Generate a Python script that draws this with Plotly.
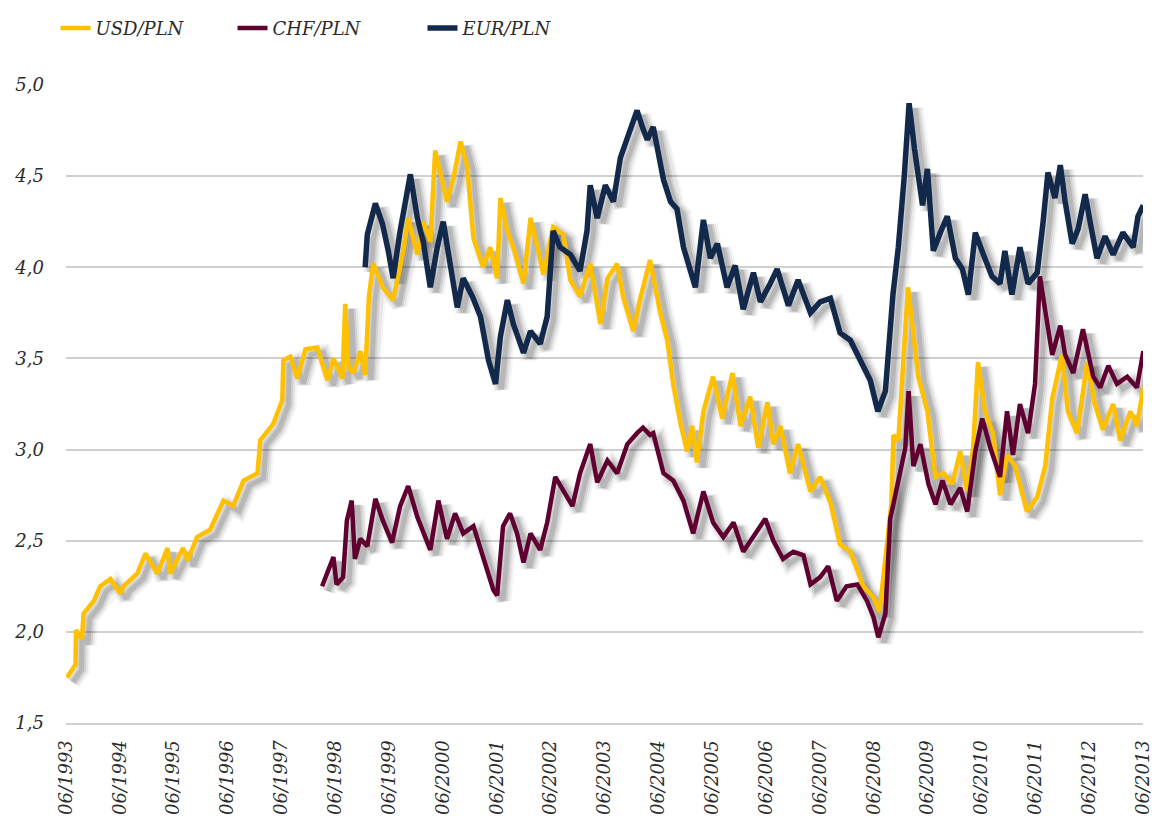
import pandas as pd
import plotly.graph_objects as go

# ---------------- data (decimal years) ----------------
usd_t = [1993.43, 1993.55, 1993.59, 1993.60, 1993.71, 1993.74, 1993.93, 1994.05, 1994.24, 1994.42,
         1994.48, 1994.74, 1994.89, 1995.11, 1995.30, 1995.35, 1995.59, 1995.67, 1995.85, 1996.09,
         1996.34, 1996.52, 1996.71, 1996.97, 1997.02, 1997.26, 1997.43, 1997.45, 1997.58, 1997.71,
         1997.86, 1998.08, 1998.27, 1998.38, 1998.55, 1998.60, 1998.66, 1998.75, 1998.88, 1998.97,
         1999.04, 1999.12, 1999.30, 1999.49, 1999.68, 1999.77, 1999.94, 2000.05, 2000.18, 2000.27,
         2000.37, 2000.49, 2000.61, 2000.74, 2000.86, 2000.98, 2001.16, 2001.29, 2001.42, 2001.48,
         2001.61, 2001.72, 2001.91, 2002.04, 2002.17, 2002.28, 2002.46, 2002.65, 2002.78, 2002.96,
         2003.15, 2003.34, 2003.47, 2003.65, 2003.76, 2003.95, 2004.08, 2004.26, 2004.45, 2004.58,
         2004.69, 2004.82, 2004.95, 2005.04, 2005.13, 2005.25, 2005.43, 2005.60, 2005.79, 2005.94,
         2006.12, 2006.27, 2006.44, 2006.55, 2006.68, 2006.86, 2007.01, 2007.24, 2007.42, 2007.61,
         2007.79, 2007.98, 2008.11, 2008.22, 2008.41, 2008.52, 2008.63, 2008.74, 2008.78, 2008.87,
         2009.05, 2009.15, 2009.24, 2009.41, 2009.56, 2009.71, 2009.87, 2010.02, 2010.15, 2010.26,
         2010.35, 2010.48, 2010.63, 2010.76, 2010.89, 2011.04, 2011.26, 2011.45, 2011.60, 2011.73,
         2011.91, 2012.02, 2012.19, 2012.38, 2012.52, 2012.67, 2012.86, 2012.99, 2013.18, 2013.30,
         2013.42]
usd_v = [1.75, 1.80, 1.82, 2.01, 1.96, 2.10, 2.17, 2.25, 2.29, 2.21,
         2.25, 2.32, 2.43, 2.32, 2.46, 2.32, 2.46, 2.39, 2.52, 2.56,
         2.72, 2.69, 2.83, 2.87, 3.05, 3.14, 3.27, 3.49, 3.51, 3.39,
         3.55, 3.56, 3.38, 3.50, 3.39, 3.80, 3.45, 3.42, 3.54, 3.41,
         3.84, 4.02, 3.89, 3.82, 4.09, 4.27, 4.07, 4.25, 4.14, 4.64,
         4.51, 4.36, 4.49, 4.69, 4.56, 4.16, 4.00, 4.11, 3.94, 4.38,
         4.20, 4.11, 3.91, 4.27, 4.11, 3.96, 4.22, 4.18, 3.93, 3.84,
         4.02, 3.69, 3.94, 4.02, 3.84, 3.65, 3.83, 4.04, 3.75, 3.60,
         3.36, 3.15, 2.99, 3.13, 2.93, 3.21, 3.40, 3.17, 3.42, 3.13,
         3.29, 3.01, 3.26, 3.03, 3.13, 2.87, 3.03, 2.77, 2.85, 2.71,
         2.48, 2.44, 2.34, 2.25, 2.19, 2.11, 2.40, 2.70, 3.08, 3.05,
         3.89, 3.60, 3.40, 3.21, 2.85, 2.87, 2.81, 2.99, 2.77, 3.01,
         3.48, 3.21, 3.09, 2.75, 2.97, 2.91, 2.66, 2.74, 2.91, 3.28,
         3.52, 3.21, 3.09, 3.48, 3.25, 3.11, 3.25, 3.05, 3.21, 3.13,
         3.34]

chf_t = [1998.17, 1998.32, 1998.38, 1998.44, 1998.56, 1998.63, 1998.72, 1998.78, 1998.88, 1999.01,
         1999.16, 1999.30, 1999.47, 1999.62, 1999.77, 1999.94, 2000.18, 2000.33, 2000.49, 2000.64,
         2000.79, 2000.98, 2001.16, 2001.35, 2001.42, 2001.53, 2001.66, 2001.79, 2001.91, 2002.04,
         2002.22, 2002.35, 2002.50, 2002.65, 2002.82, 2002.96, 2003.15, 2003.28, 2003.47, 2003.65,
         2003.84, 2004.02, 2004.13, 2004.26, 2004.32, 2004.51, 2004.69, 2004.88, 2005.06, 2005.25,
         2005.43, 2005.62, 2005.81, 2005.99, 2006.18, 2006.40, 2006.55, 2006.73, 2006.92, 2007.11,
         2007.24, 2007.42, 2007.57, 2007.73, 2007.91, 2008.11, 2008.29, 2008.41, 2008.50, 2008.63,
         2008.72, 2008.85, 2009.00, 2009.06, 2009.15, 2009.28, 2009.43, 2009.56, 2009.69, 2009.84,
         2010.02, 2010.15, 2010.30, 2010.43, 2010.58, 2010.76, 2010.89, 2011.00, 2011.13, 2011.28,
         2011.41, 2011.50, 2011.63, 2011.73, 2011.88, 2011.97, 2012.12, 2012.30, 2012.49, 2012.62,
         2012.77, 2012.93, 2013.12, 2013.30, 2013.42]
chf_v = [2.25, 2.36, 2.41, 2.26, 2.30, 2.61, 2.72, 2.40, 2.51, 2.47,
         2.73, 2.61, 2.49, 2.69, 2.80, 2.63, 2.45, 2.72, 2.51, 2.65,
         2.54, 2.58, 2.40, 2.23, 2.20, 2.58, 2.65, 2.54, 2.38, 2.54,
         2.45, 2.60, 2.85, 2.78, 2.69, 2.87, 3.03, 2.82, 2.94, 2.87,
         3.03, 3.09, 3.12, 3.08, 3.09, 2.87, 2.83, 2.72, 2.54, 2.77,
         2.60, 2.52, 2.60, 2.44, 2.52, 2.62, 2.50, 2.40, 2.44, 2.42,
         2.26, 2.30, 2.36, 2.17, 2.25, 2.26, 2.17, 2.08, 1.97, 2.10,
         2.62, 2.80, 3.01, 3.32, 2.91, 3.03, 2.81, 2.70, 2.83, 2.70,
         2.79, 2.66, 2.99, 3.17, 3.01, 2.85, 3.21, 2.97, 3.25, 3.09,
         3.36, 3.95, 3.72, 3.52, 3.68, 3.52, 3.42, 3.66, 3.40, 3.34,
         3.46, 3.36, 3.40, 3.34, 3.54]

eur_t = [1998.97, 1999.01, 1999.16, 1999.29, 1999.40, 1999.49, 1999.62, 1999.81, 1999.94, 2000.05,
         2000.18, 2000.31, 2000.42, 2000.55, 2000.68, 2000.79, 2000.96, 2001.11, 2001.26, 2001.39,
         2001.48, 2001.61, 2001.72, 2001.91, 2002.04, 2002.22, 2002.35, 2002.46, 2002.59, 2002.78,
         2002.96, 2003.09, 2003.15, 2003.28, 2003.43, 2003.58, 2003.71, 2003.84, 2004.02, 2004.13,
         2004.21, 2004.32, 2004.51, 2004.64, 2004.76, 2004.88, 2005.10, 2005.25, 2005.38, 2005.51,
         2005.69, 2005.84, 2005.99, 2006.18, 2006.31, 2006.49, 2006.62, 2006.83, 2007.01, 2007.24,
         2007.42, 2007.61, 2007.79, 2007.98, 2008.16, 2008.35, 2008.49, 2008.63, 2008.77, 2008.87,
         2008.98, 2009.07, 2009.17, 2009.32, 2009.41, 2009.52, 2009.65, 2009.78, 2009.93, 2010.06,
         2010.17, 2010.30, 2010.45, 2010.61, 2010.76, 2010.85, 2010.98, 2011.13, 2011.28, 2011.45,
         2011.56, 2011.65, 2011.78, 2011.88, 2011.97, 2012.10, 2012.21, 2012.34, 2012.47, 2012.56,
         2012.71, 2012.86, 2013.04, 2013.23, 2013.32, 2013.42]
eur_v = [4.00, 4.18, 4.35, 4.24, 4.09, 3.94, 4.20, 4.51, 4.27, 4.14,
         3.89, 4.11, 4.25, 4.02, 3.78, 3.94, 3.84, 3.73, 3.49, 3.36,
         3.62, 3.82, 3.69, 3.53, 3.65, 3.58, 3.73, 4.20, 4.11, 4.07,
         3.98, 4.20, 4.45, 4.27, 4.45, 4.36, 4.60, 4.71, 4.86, 4.76,
         4.70, 4.77, 4.48, 4.36, 4.32, 4.11, 3.89, 4.26, 4.05, 4.13,
         3.89, 4.01, 3.77, 3.97, 3.81, 3.91, 3.99, 3.79, 3.93, 3.75,
         3.81, 3.83, 3.64, 3.60, 3.50, 3.38, 3.21, 3.32, 3.85, 4.11,
         4.50, 4.90, 4.65, 4.34, 4.54, 4.09, 4.19, 4.28, 4.05, 3.99,
         3.85, 4.19, 4.07, 3.95, 3.91, 4.09, 3.85, 4.11, 3.91, 3.97,
         4.25, 4.52, 4.38, 4.56, 4.36, 4.13, 4.21, 4.40, 4.19, 4.05,
         4.17, 4.07, 4.19, 4.11, 4.28, 4.34]

tick_years = list(range(1993, 2014))
tick_labels = [f"06/{y}" for y in tick_years]

series_names = ["USD/PLN", "CHF/PLN", "EUR/PLN"]
series_colors = ["#FFC000", "#5F0030", "#13294B"]
series_widths = [4.5, 4.5, 5.5]
legend_refs = ["legend", "legend2", "legend3"]


def dec_to_date(y):
    yr = int(y)
    start = pd.Timestamp(yr, 1, 1)
    days = (pd.Timestamp(yr + 1, 1, 1) - start).days
    return start + pd.Timedelta(days=(y - yr) * days)


tick_vals = [pd.Timestamp(y, 6, 1) for y in tick_years]
x0, x1 = tick_vals[0], tick_vals[-1]

W, H = 1156, 825
ML, MR, MT, MB = 66, 13, 85, 102
pw, ph = W - ML - MR, H - MT - MB
y0, y1 = 1.5, 5.0

# shadow offset (pixels -> data units via axis ranges)
sdx_px, sdy_px = 6, 5
span = x1 - x0
sdx = span * (sdx_px / pw)
sdy = (y1 - y0) * (sdy_px / ph)

fig = go.Figure()

# anchor trace on the base axes so that they (grid, ticks) are drawn
fig.add_trace(go.Scatter(x=[x0, x1], y=[None, None], mode="lines", xaxis="x", yaxis="y",
                         showlegend=False, hoverinfo="skip"))

data = [(usd_t, usd_v), (chf_t, chf_v), (eur_t, eur_v)]

# soft shadows (on shifted overlay axes x2/y2)
for (t, v) in data:
    xs = [dec_to_date(a) for a in t]
    for w, a in [(17, 0.04), (13, 0.06), (9, 0.09), (5, 0.12)]:
        fig.add_trace(go.Scatter(x=xs, y=v, mode="lines", xaxis="x2", yaxis="y2",
                                 line=dict(color=f"rgba(0,0,0,{a})", width=w),
                                 showlegend=False, hoverinfo="skip"))

# main lines (on overlay axes x3/y3 with true ranges)
for (t, v), name, col, w, lg in zip(data, series_names, series_colors, series_widths, legend_refs):
    xs = [dec_to_date(a) for a in t]
    fig.add_trace(go.Scatter(x=xs, y=v, mode="lines", name=name, xaxis="x3", yaxis="y3",
                             line=dict(color=col, width=w), legend=lg))

FONT = "DejaVu Serif"
tick_font = dict(family=FONT, size=18, color="#2b2b2b", style="italic")
legend_font = dict(family=FONT, size=18, color="#2b2b2b", style="italic")


def legend_at(xp):
    return dict(orientation="h", x=xp, xanchor="left", y=1.089, yanchor="middle",
                font=legend_font, bgcolor="rgba(0,0,0,0)")


fig.update_layout(
    width=W, height=H,
    margin=dict(l=ML, r=MR, t=MT, b=MB, autoexpand=False),
    paper_bgcolor="white", plot_bgcolor="white",
    separators=", ",
    showlegend=True,
    legend=legend_at(-0.0097),
    legend2=legend_at(0.1546),
    legend3=legend_at(0.331),
    xaxis=dict(type="date", range=[x0, x1], tickvals=tick_vals, ticktext=tick_labels,
               tickangle=-90, tickfont=tick_font, showgrid=False, zeroline=False,
               showline=True, linecolor="#D0D0D0", linewidth=2, ticks="", ticklabelstandoff=8),
    yaxis=dict(range=[y0, y1], dtick=0.5, tick0=1.5, tickformat=".1f", tickfont=tick_font,
               showgrid=True, gridcolor="#D0D0D0", gridwidth=2, zeroline=False,
               showline=False, ticks="", ticklabelstandoff=21),
    xaxis2=dict(type="date", overlaying="x", range=[x0 - sdx, x1 - sdx], visible=False),
    yaxis2=dict(overlaying="y", range=[y0 + sdy, y1 + sdy], visible=False),
    xaxis3=dict(type="date", overlaying="x", range=[x0, x1], visible=False),
    yaxis3=dict(overlaying="y", range=[y0, y1], visible=False),
)

fig.write_html("out.html", config={"displayModeBar": False},
               post_script="document.body.style.margin='0';document.body.style.overflow='hidden';")
